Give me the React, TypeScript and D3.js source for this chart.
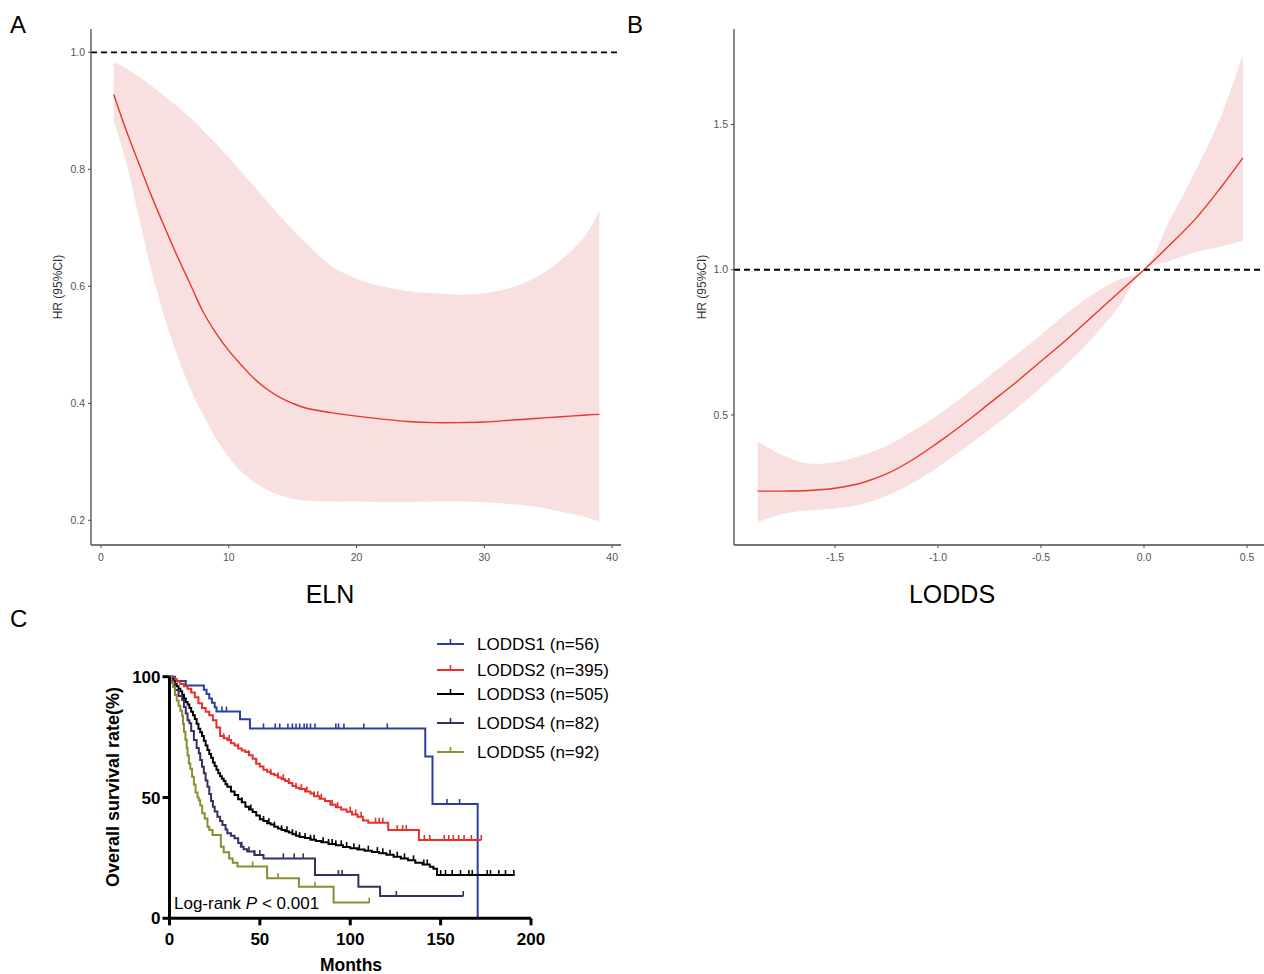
import React from "react";
import * as d3 from "d3";

// ---------- Panel A data (ELN) ----------
const elnX = [1, 2, 3, 4, 5, 6, 7, 8, 9, 10, 11, 12, 13, 14, 15, 16, 18, 20, 22, 24, 26, 28, 30, 32, 34, 36, 38, 39];
const elnHR = [0.928, 0.865, 0.808, 0.752, 0.7, 0.65, 0.603, 0.556, 0.52, 0.49, 0.465, 0.442, 0.424, 0.41, 0.4, 0.392, 0.384, 0.378, 0.373, 0.369, 0.367, 0.367, 0.368, 0.371, 0.374, 0.377, 0.38, 0.381];
const elnLower = [0.884, 0.81, 0.715, 0.622, 0.545, 0.48, 0.425, 0.38, 0.34, 0.308, 0.283, 0.265, 0.252, 0.243, 0.237, 0.234, 0.232, 0.232, 0.231, 0.231, 0.232, 0.232, 0.231, 0.228, 0.223, 0.215, 0.205, 0.198];
const elnUpper = [0.983, 0.972, 0.958, 0.942, 0.925, 0.907, 0.888, 0.866, 0.844, 0.82, 0.795, 0.77, 0.745, 0.72, 0.697, 0.675, 0.635, 0.613, 0.6, 0.592, 0.588, 0.586, 0.588, 0.597, 0.615, 0.645, 0.69, 0.73];
const elnTicksX = [0, 10, 20, 30, 40];
const elnTicksY = [0.2, 0.4, 0.6, 0.8, 1.0];

// ---------- Panel B data (LODDS) ----------
const loddsX = [-1.875, -1.75, -1.625, -1.5, -1.375, -1.25, -1.125, -1.0, -0.875, -0.75, -0.625, -0.5, -0.375, -0.25, -0.125, 0, 0.125, 0.25, 0.375, 0.48];
const loddsHR = [0.238, 0.238, 0.24, 0.248, 0.265, 0.297, 0.345, 0.405, 0.47, 0.54, 0.61, 0.685, 0.76, 0.84, 0.92, 1.0, 1.085, 1.175, 1.285, 1.385];
const loddsLower = [0.132, 0.16, 0.172, 0.178, 0.192, 0.222, 0.265, 0.32, 0.383, 0.45, 0.52, 0.595, 0.675, 0.765, 0.87, 1.0, 1.03, 1.06, 1.08, 1.1];
const loddsUpper = [0.41, 0.36, 0.333, 0.338, 0.36, 0.393, 0.443, 0.5, 0.565, 0.635, 0.705, 0.775, 0.85, 0.915, 0.965, 1.0, 1.17, 1.34, 1.53, 1.74];
const loddsTicksX = [-1.5, -1.0, -0.5, 0.0, 0.5];
const loddsTicksY = [0.5, 1.0, 1.5];

// ---------- Panel C data (Kaplan-Meier) ----------
const kmLabels = ["LODDS1 (n=56)", "LODDS2 (n=395)", "LODDS3 (n=505)", "LODDS4 (n=82)", "LODDS5 (n=92)"];
const kmColors = ["#2B3FA3", "#E8302A", "#000000", "#3F2A62", "#8C8C30"];

const km1Time = [0, 3, 9, 19, 20.5, 22, 23.5, 25, 26, 39, 44.5, 141.5, 145.5, 170.5];
const km1Surv = [100, 98.2, 96.4, 94.6, 92.8, 91, 89.2, 87.4, 85.6, 82.4, 78.6, 67, 47.3, 0];
const km1Censor = [29, 31.5, 52, 58.5, 61, 65.5, 68, 70, 72, 74.5, 76, 78, 80.5, 92, 93.5, 96.5, 107.5, 120.5, 153.5, 160.5];

const km2Time = [0, 2, 4, 6, 8, 10, 12, 14, 16, 18, 20, 22, 24, 26, 28, 30, 32, 34, 36, 38, 40, 42, 44, 46, 48, 50, 52, 54, 56, 58, 60, 62, 64, 66, 68, 70, 72, 75, 78, 80, 83, 86, 89, 92, 95, 98, 101, 104, 107, 110, 121, 138, 172.5];
const km2Surv = [100, 99, 98, 97, 96, 95, 93.5, 91.5, 89, 87, 85.5, 84, 82, 79, 75.5, 74.5, 73.8, 72.5, 71.5, 70.3, 69.5, 68.8, 67.5, 66, 64, 62.8, 61.5, 60.7, 59.8, 59.2, 58.3, 57.6, 56.8, 56, 54.8, 54, 53.5, 52.5, 51.7, 50.5, 49.5, 48.5, 47, 46, 45, 44.1, 43, 42, 40.5, 39.6, 36.5, 32.4, 32.4];
const km2Censor = [30, 33, 38, 44, 48, 56, 60, 63, 66, 70, 73, 76, 80, 82, 84, 90, 93, 100, 103, 106, 114, 116, 118, 126, 129, 131, 141, 144, 152, 154.5, 157, 160, 163, 167, 172.5];

const km3Time = [0, 1, 2, 3, 4, 5, 6, 7, 8, 9, 10, 11, 12, 13, 14, 15, 16, 17, 18, 19, 20, 21, 22, 23, 24, 25, 26, 27, 28, 29, 30, 31, 32, 34, 36, 38, 40, 42, 44, 46, 48, 50, 52, 54, 56, 58, 60, 62, 64, 66, 68, 70, 72, 75, 78, 81, 84, 88, 92, 96, 100, 104, 108, 112, 116, 120, 124, 128, 132, 136, 140, 144, 146, 148, 191];
const km3Surv = [100, 99, 98, 97, 96, 95, 94, 92.5, 91, 89.5, 88.5, 87, 85.5, 84, 82.5, 80.5, 78.5, 77, 75.5, 73.5, 71.5, 69.7, 68, 66.5, 64.5, 63, 61.5, 60, 58.8, 57.8, 56.8, 55.5, 54.5, 52.5, 51, 49.3, 48, 46.2, 45, 44, 42.5, 41, 40.3, 39.3, 38.8, 37.9, 37.2, 36.5, 36, 35.5, 34.8, 34.2, 33.6, 33.2, 32.5, 32, 31.5, 30.8, 30.2, 29.5, 29, 28.5, 28, 27.4, 26.9, 26.3, 25.5, 24.8, 24, 23, 22.3, 21.3, 20.5, 17.9, 17.9];
const km3Censor = [40, 45, 52, 55, 58, 62, 65, 68, 70, 72, 75, 78, 80, 85, 88, 90, 92, 95, 98, 102, 105, 110, 115, 118, 122, 126, 130, 135, 140.7, 142.6, 150, 152.7, 156.4, 161, 165.6, 167.5, 175.8, 177.6, 182.2, 185.9, 190.5];

const km4Time = [0, 1.5, 3, 5, 7, 8, 9, 10, 11, 12, 13.5, 15, 16.2, 17, 18, 19, 20, 21, 22, 23, 24, 25, 26.5, 28, 29.3, 31, 32, 34, 36, 38, 39.5, 41, 43, 47, 52, 80.5, 104.5, 116.5, 162.6];
const km4Surv = [100, 97.5, 94.5, 92, 90.4, 87.5, 84.8, 82, 80.7, 77.5, 73.8, 70.5, 68.3, 65.5, 62.7, 60, 57, 54.5, 51.5, 48.5, 46.2, 44.2, 42, 40.3, 38.6, 36.8, 35.2, 34.2, 33.1, 31.2, 29.6, 28.6, 27.6, 26.2, 24.8, 17.9, 13.1, 9.2, 9.2];
const km4Censor = [40, 44, 47, 50, 63, 69, 74, 93.5, 95.5, 125.5, 162.5];

const km5Time = [0, 1, 2, 3, 4, 5, 6, 7, 7.5, 8, 8.8, 9.5, 10, 10.7, 11.5, 12.5, 13.5, 14.4, 15.5, 16.2, 17, 18.1, 19.5, 21, 22, 23.8, 28.4, 30, 33, 35, 37.6, 54, 71.6, 90.8, 110.7];
const km5Surv = [100, 97.8, 95.7, 92.4, 90.2, 88, 85.9, 83.7, 80.4, 77.2, 73.9, 70.6, 67.4, 64.1, 61.9, 58.6, 55.4, 52.1, 50, 48.9, 46.7, 43.5, 41.3, 37.9, 36.5, 34.5, 29.6, 27.3, 24.8, 23, 21.4, 16.6, 13.1, 6.5, 6.5];
const km5Censor = [46, 60, 80.5, 110.5];

const kmTimes = [km1Time, km2Time, km3Time, km4Time, km5Time];
const kmSurvs = [km1Surv, km2Surv, km3Surv, km4Surv, km5Surv];
const kmCensors = [km1Censor, km2Censor, km3Censor, km4Censor, km5Censor];
const kmTicksX = [0, 50, 100, 150, 200];
const kmTicksY = [0, 50, 100];

const FONT = "Liberation Sans, Arial, Helvetica, sans-serif";

function HRPanel(props: {
  xs: number[]; hr: number[]; lo: number[]; up: number[];
  xDomain: [number, number]; yDomain: [number, number];
  xRange: [number, number]; yRange: [number, number];
  xTicks: number[]; yTicks: number[]; xFmt: (v: number) => string;
  xTitle: string; letter: string; letterX: number; yTitleX: number; xTitleX: number;
}) {
  const x = d3.scaleLinear().domain(props.xDomain).range(props.xRange);
  const y = d3.scaleLinear().domain(props.yDomain).range(props.yRange);
  const pts = props.xs.map((v, i) => ({ x: v, hr: props.hr[i], lo: props.lo[i], up: props.up[i] }));
  const curve = d3.curveCatmullRom.alpha(0.5);
  const area = d3.area<any>().x((d) => x(d.x)).y0((d) => y(d.lo)).y1((d) => y(d.up)).curve(curve);
  const line = d3.line<any>().x((d) => x(d.x)).y((d) => y(d.hr)).curve(curve);
  const [x0, x1] = props.xRange;
  const [yb, yt] = props.yRange;
  const axisColor = "#4a4a4a";
  return (
    <g>
      <text x={props.letterX} y={33} fontSize={24} fontFamily={FONT} fill="#000">{props.letter}</text>
      <path d={area(pts) || ""} fill="#F8DFE0" stroke="none" />
      <path d={line(pts) || ""} fill="none" stroke="#E8372F" strokeWidth={1.4} />
      <line x1={x0} x2={x1} y1={y(1)} y2={y(1)} stroke="#000" strokeWidth={1.8} strokeDasharray="6,4" />
      <line x1={x0} x2={x0} y1={yb} y2={yt} stroke={axisColor} strokeWidth={1.3} />
      <line x1={x0} x2={x1} y1={yb} y2={yb} stroke={axisColor} strokeWidth={1.3} />
      {props.yTicks.map((t) => (
        <g key={"y" + t}>
          <line x1={x0 - 3} x2={x0} y1={y(t)} y2={y(t)} stroke={axisColor} strokeWidth={1} />
          <text x={x0 - 6} y={y(t)} dy="0.35em" textAnchor="end" fontSize={10.5} fontFamily={FONT} fill="#555">{t.toFixed(1)}</text>
        </g>
      ))}
      {props.xTicks.map((t) => (
        <g key={"x" + t}>
          <line x1={x(t)} x2={x(t)} y1={yb} y2={yb + 3} stroke={axisColor} strokeWidth={1} />
          <text x={x(t)} y={yb + 16} textAnchor="middle" fontSize={10.5} fontFamily={FONT} fill="#555">{props.xFmt(t)}</text>
        </g>
      ))}
      <text transform={`translate(${props.yTitleX},287) rotate(-90)`} textAnchor="middle" fontSize={12} fontFamily={FONT} fill="#333">HR (95%CI)</text>
      <text x={props.xTitleX} y={603} textAnchor="middle" fontSize={25} fontFamily={FONT} fill="#000">{props.xTitle}</text>
    </g>
  );
}

function KMPanel() {
  const x = d3.scaleLinear().domain([0, 200]).range([169.5, 531]);
  const y = d3.scaleLinear().domain([0, 100]).range([918.3, 676.7]);
  const stepAt = (times: number[], survs: number[], t: number) => {
    let s = survs[0];
    for (let i = 0; i < times.length; i++) if (times[i] <= t) s = survs[i];
    return s;
  };
  const line = d3.line<[number, number]>().x((d) => x(d[0])).y((d) => y(d[1])).curve(d3.curveStepAfter);
  const legendY = [644, 670, 694, 723, 752];
  return (
    <g fontFamily={FONT}>
      <text x={10} y={627} fontSize={24} fill="#000">C</text>
      {kmTimes.map((times, k) => {
        const data = times.map((t, i) => [t, kmSurvs[k][i]] as [number, number]);
        return (
          <g key={"km" + k}>
            <path d={line(data) || ""} fill="none" stroke={kmColors[k]} strokeWidth={2} />
            {kmCensors[k].map((c, j) => {
              const s = stepAt(times, kmSurvs[k], c);
              return <line key={j} x1={x(c)} x2={x(c)} y1={y(s)} y2={y(s) - 5} stroke={kmColors[k]} strokeWidth={1.6} />;
            })}
          </g>
        );
      })}
      <line x1={x(0)} x2={x(0)} y1={y(0) + 1.5} y2={y(100)} stroke="#000" strokeWidth={3} />
      <line x1={x(0) - 1.5} x2={x(200)} y1={y(0)} y2={y(0)} stroke="#000" strokeWidth={3} />
      {kmTicksY.map((t) => (
        <g key={"ky" + t}>
          <line x1={x(0) - 7} x2={x(0)} y1={y(t)} y2={y(t)} stroke="#000" strokeWidth={3} />
          <text x={x(0) - 9} y={y(t)} dy="0.36em" textAnchor="end" fontSize={17} fontWeight="bold" fill="#000">{t}</text>
        </g>
      ))}
      {kmTicksX.map((t) => (
        <g key={"kx" + t}>
          <line x1={x(t)} x2={x(t)} y1={y(0)} y2={y(0) + 7} stroke="#000" strokeWidth={3} />
          <text x={x(t)} y={y(0) + 27} textAnchor="middle" fontSize={17} fontWeight="bold" fill="#000">{t}</text>
        </g>
      ))}
      <text x={351} y={971} textAnchor="middle" fontSize={17.5} fontWeight="bold" fill="#000">Months</text>
      <text transform="translate(119,787) rotate(-90)" textAnchor="middle" fontSize={18} fontWeight="bold" fill="#000">Overall survival rate(%)</text>
      <text x={174} y={909} fontSize={17} fill="#000">
        Log-rank <tspan fontStyle="italic">P</tspan> {"< 0.001"}
      </text>
      {kmLabels.map((lab, k) => (
        <g key={"lg" + k}>
          <line x1={437} x2={464} y1={legendY[k]} y2={legendY[k]} stroke={kmColors[k]} strokeWidth={2} />
          <line x1={450.5} x2={450.5} y1={legendY[k]} y2={legendY[k] - 5} stroke={kmColors[k]} strokeWidth={1.6} />
          <text x={477} y={legendY[k]} dy="0.36em" fontSize={17} fill="#000">{lab}</text>
        </g>
      ))}
    </g>
  );
}

export default function App() {
  return (
    <svg width={1264} height={974} style={{ display: "block", position: "absolute", left: 0, top: 0, background: "#fff" }}>
      <rect x={0} y={0} width={1264} height={974} fill="#fff" />
      <HRPanel
        xs={elnX} hr={elnHR} lo={elnLower} up={elnUpper}
        xDomain={[-0.78, 40.69]} yDomain={[0.1578, 1.0398]}
        xRange={[91, 621]} yRange={[545, 29]}
        xTicks={elnTicksX} yTicks={elnTicksY} xFmt={(v) => String(v)}
        xTitle="ELN" letter="A" letterX={10} yTitleX={62} xTitleX={330}
      />
      <HRPanel
        xs={loddsX} hr={loddsHR} lo={loddsLower} up={loddsUpper}
        xDomain={[-1.99, 0.5825]} yDomain={[0.0525, 1.8287]}
        xRange={[734, 1264]} yRange={[545, 29]}
        xTicks={loddsTicksX} yTicks={loddsTicksY} xFmt={(v) => v.toFixed(1)}
        xTitle="LODDS" letter="B" letterX={627} yTitleX={706} xTitleX={952}
      />
      <KMPanel />
    </svg>
  );
}
